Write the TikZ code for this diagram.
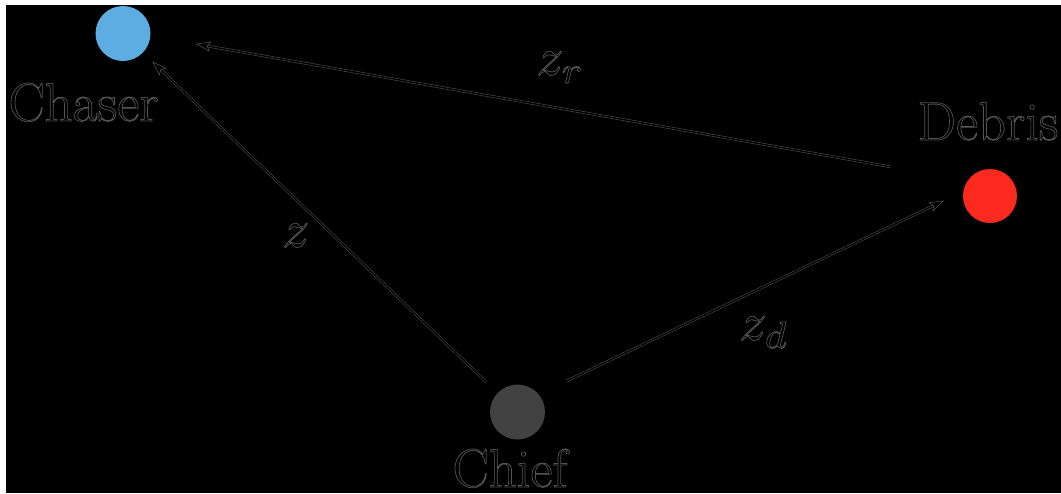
\documentclass[tikz,border=0pt]{standalone}
\usetikzlibrary{arrows.meta}
\definecolor{chasercol}{RGB}{93,173,226}
\definecolor{debriscol}{RGB}{252,42,30}
\definecolor{chiefcol}{RGB}{66,66,66}
\definecolor{edgecol}{RGB}{85,85,85}
\newcommand\outlinetext[1]{\special{pdf:literal direct 1 Tr 0.7 w}#1\special{pdf:literal direct 0 Tr}}
\newcommand\outlinemath[1]{\scalebox{5.4}{\special{pdf:literal direct 1 Tr 0.13 w}#1\special{pdf:literal direct 0 Tr}}}
\begin{document}
\begin{tikzpicture}[x=1pt,y=-1pt,
  body/.style={circle, minimum size=55pt, inner sep=0pt, outer sep=0pt},
  lbl/.style={text=edgecol, font=\fontsize{54.5}{60}\selectfont, inner sep=0pt, anchor=base},
  mlbl/.style={text=edgecol, font=\fontsize{10}{12}\selectfont, inner sep=0pt, anchor=base west},
  vec/.style={draw=edgecol, double=black, line width=0.5pt, double distance=1.5pt,
    -{Stealth[open,length=15pt,width=10pt,inset=3pt]}}]
\fill[white] (0,0) rectangle (1061,493);
\fill[black] (6,5) rectangle (1061,493);
\useasboundingbox (0,0) rectangle (1061,493);
\node[body, fill=chasercol] (cha) at (123,33.5) {};
\node[body, fill=debriscol, minimum size=54pt] (deb) at (990,196) {};
\node[body, fill=chiefcol] (chf) at (517.5,412) {};
\node[lbl] (chaL) at (83.5,121) {\outlinetext{Chaser}};
\node[lbl] (debL) at (988,140) {\outlinetext{Debris}};
\node[lbl] (chfL) at (510,487) {\outlinetext{Chief}};
\node[mlbl] (zr) at (536,75) {\outlinemath{$z_r$}};
\node[mlbl] (z) at (282,247) {\outlinemath{$z$}};
\node[mlbl] (zd) at (739,340) {\outlinemath{$z_d$}};
\draw[vec, shorten <=16pt, shorten >=13pt] (chf) -- (cha);
\draw[vec, shorten <=79pt, shorten >=46pt] (deb.145) -- (cha.-5);
\draw[vec, shorten <=31.5pt, shorten >=21.5pt] (chf.40) -- (deb.170);
\end{tikzpicture}
\end{document}
